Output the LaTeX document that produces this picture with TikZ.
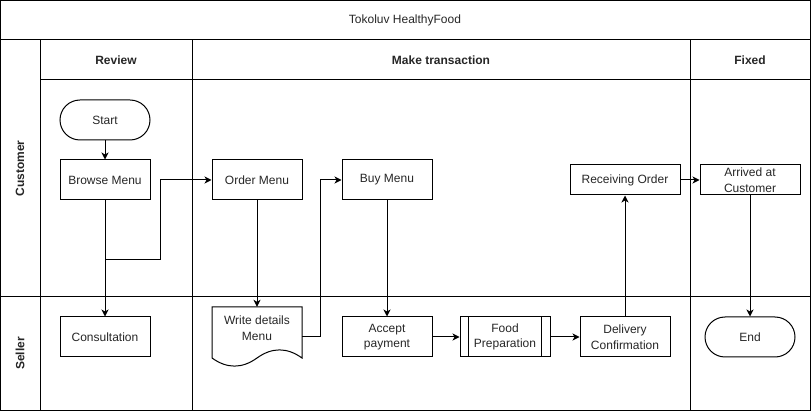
\documentclass[tikz,border=0pt]{standalone}
\usepackage{fontspec}
\setmainfont{Liberation Sans}
\usetikzlibrary{arrows.meta,calc}
\begin{document}
\begin{tikzpicture}[x=1pt,y=-1pt,
  every node/.style={font=\fontsize{12}{15.5}\selectfont, text=black!85},
  line/.style={line width=1pt, black},
  boxstyle/.style={draw, line width=1pt, minimum width=90pt, minimum height=40pt, inner sep=1pt, align=center},
  termstyle/.style={boxstyle, rounded corners=20pt},
  hdr/.style={font=\fontsize{12}{14}\selectfont\bfseries},
  arr/.style={line width=1pt, -{Stealth[length=7pt,width=7pt,inset=2pt]}}
]
\useasboundingbox (0,0) rectangle (811,411);
% frame and lanes
\draw[line] (0.5,0.5) rectangle (810.5,410.5);
\draw[line] (0.5,40) -- (810.5,40);
\draw[line] (40,40) -- (40,410.5);
\draw[line] (40,80) -- (810.5,80);
\draw[line] (0.5,297) -- (810.5,297);
\draw[line] (192,40) -- (192,410.5);
\draw[line] (690,40) -- (690,410.5);
% titles
\node (title) at (405,20) {Tokoluv HealthyFood};
\node[hdr] (hreview) at (116,60) {Review};
\node[hdr] (htrans) at (441,60) {Make transaction};
\node[hdr] (hfixed) at (750,60) {Fixed};
\node[hdr, rotate=90] (lcust) at (20,168.5) {Customer};
\node[hdr, rotate=90] (lseller) at (20,353.5) {Seller};
% nodes
\node[termstyle] (start) at (105,120) {Start};
\node[boxstyle] (browse) at (105,180) {Browse Menu};
\node[boxstyle] (order) at (257,180) {Order Menu};
\node[boxstyle] (buy) at (387,180) {Buy Menu};
\node[boxstyle, minimum width=110pt, minimum height=30pt] (recv) at (625,180) {Receiving Order};
\node[boxstyle, minimum width=100pt, minimum height=30pt] (arrived) at (750,180) {Arrived at\\Customer};
\node[boxstyle] (consult) at (105,337) {Consultation};
\node[minimum width=90pt, minimum height=60pt, inner sep=0pt] (wdm) at (257,337) {};
\draw[line] (212,307) -- (302,307) -- (302,358)
  .. controls (287,347.2) and (272,347.2) .. (257,358)
  .. controls (242,368.8) and (227,368.8) .. (212,358) -- cycle;
\node[align=center] (wdmtext) at (257,328) {Write details\\Menu};
\node[boxstyle] (accept) at (387,337) {Accept\\payment};
\node[boxstyle] (food) at (505,337) {Food\\Preparation};
\draw[line] ($(food.north west)+(9,0)$) -- ($(food.south west)+(9,0)$);
\draw[line] ($(food.north east)+(-9,0)$) -- ($(food.south east)+(-9,0)$);
\node[boxstyle] (deliv) at (625,337) {Delivery\\Confirmation};
\node[termstyle] (endn) at (750,337) {End};
% bend points
\coordinate (b1) at (160,260);
\coordinate (b2) at (320,337);
% connectors
\draw[arr] (start) -- (browse);
\draw[arr] (browse) -- (consult);
\draw[arr] (browse.south) |- (b1) |- (order.west);
\draw[arr] (order) -- (wdm.north);
\draw[arr] (wdm.east) -- (b2) |- (buy.west);
\draw[arr] (buy) -- (accept);
\draw[arr] (accept) -- (food);
\draw[arr] (food) -- (deliv);
\draw[arr] (deliv) -- (recv);
\draw[arr] (recv) -- (arrived);
\draw[arr] (arrived) -- (endn);
\end{tikzpicture}
\end{document}
